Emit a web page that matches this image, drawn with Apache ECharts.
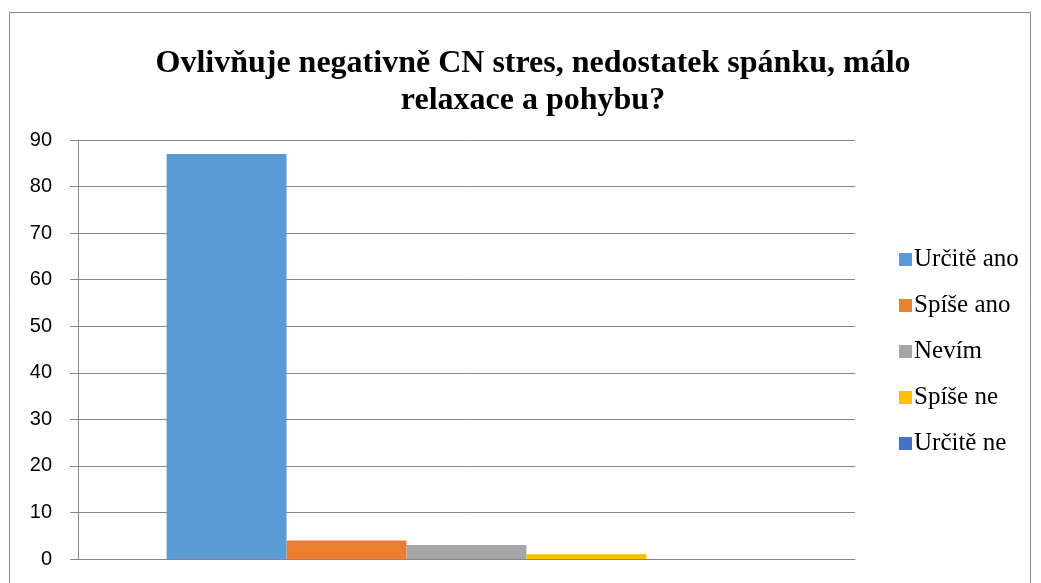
<!DOCTYPE html>
<html>
<head>
<meta charset="utf-8">
<script src="https://cdn.jsdelivr.net/npm/echarts@6/dist/echarts.min.js"></script>
<style>
  html, body { margin: 0; padding: 0; background: #fff; }
  #chart { width: 1041px; height: 583px; }
</style>
</head>
<body>
<div id="chart"></div>
<script>
// data
var categories = [''];
var seriesNames = ['Určitě ano', 'Spíše ano', 'Nevím', 'Spíše ne', 'Určitě ne'];
var seriesValues = [87, 4, 3, 1, 0];
var seriesColors = ['#5B9BD5', '#ED7D31', '#A5A5A5', '#FFC000', '#4472C4'];
var yTicks = [0, 10, 20, 30, 40, 50, 60, 70, 80, 90];

var myChart = echarts.init(document.getElementById('chart'));

var series = seriesNames.map(function (name, i) {
    return {
        name: name,
        type: 'bar',
        data: [seriesValues[i]],
        itemStyle: { color: seriesColors[i] },
        barGap: '0%',
        barCategoryGap: '22.8%'
    };
});

var option = {
    animation: false,
    backgroundColor: '#fff',
    title: {
        text: 'Ovlivňuje negativně CN stres, nedostatek spánku, málo\nrelaxace a pohybu?',
        left: 528,
        textAlign: 'center',
        top: 40,
        textStyle: {
            fontFamily: 'Liberation Serif',
            fontWeight: 'bold',
            fontSize: 32,
            lineHeight: 37,
            color: '#000'
        }
    },
    legend: {
        orient: 'vertical',
        left: 894,
        top: 242,
        itemWidth: 13,
        itemHeight: 13,
        itemGap: 21,
        icon: 'rect',
        textStyle: {
            fontFamily: 'Liberation Serif',
            fontSize: 25,
            lineHeight: 25,
            color: '#000',
            padding: [0, 0, 0, -3]
        },
        data: seriesNames
    },
    grid: { left: 78, right: 186, top: 140, bottom: 24 },
    xAxis: {
        type: 'category',
        data: categories,
        axisLine: { lineStyle: { color: '#868686', width: 1 } },
        axisTick: { show: false },
        axisLabel: { show: false }
    },
    yAxis: {
        type: 'value',
        min: yTicks[0],
        max: yTicks[yTicks.length - 1],
        interval: 10,
        axisLine: { show: true, lineStyle: { color: '#868686' } },
        axisTick: { show: true, length: 8, lineStyle: { color: '#868686' } },
        axisLabel: {
            fontFamily: 'Liberation Sans',
            fontSize: 20,
            color: '#000',
            margin: 26
        },
        splitLine: { lineStyle: { color: '#868686', width: 1 } }
    },
    graphic: [{
        type: 'rect',
        shape: { x: 9.5, y: 12.5, width: 1021, height: 590 },
        style: { fill: 'none', stroke: '#868686', lineWidth: 1 },
        silent: true
    }],
    series: series
};

myChart.setOption(option);
</script>
</body>
</html>
